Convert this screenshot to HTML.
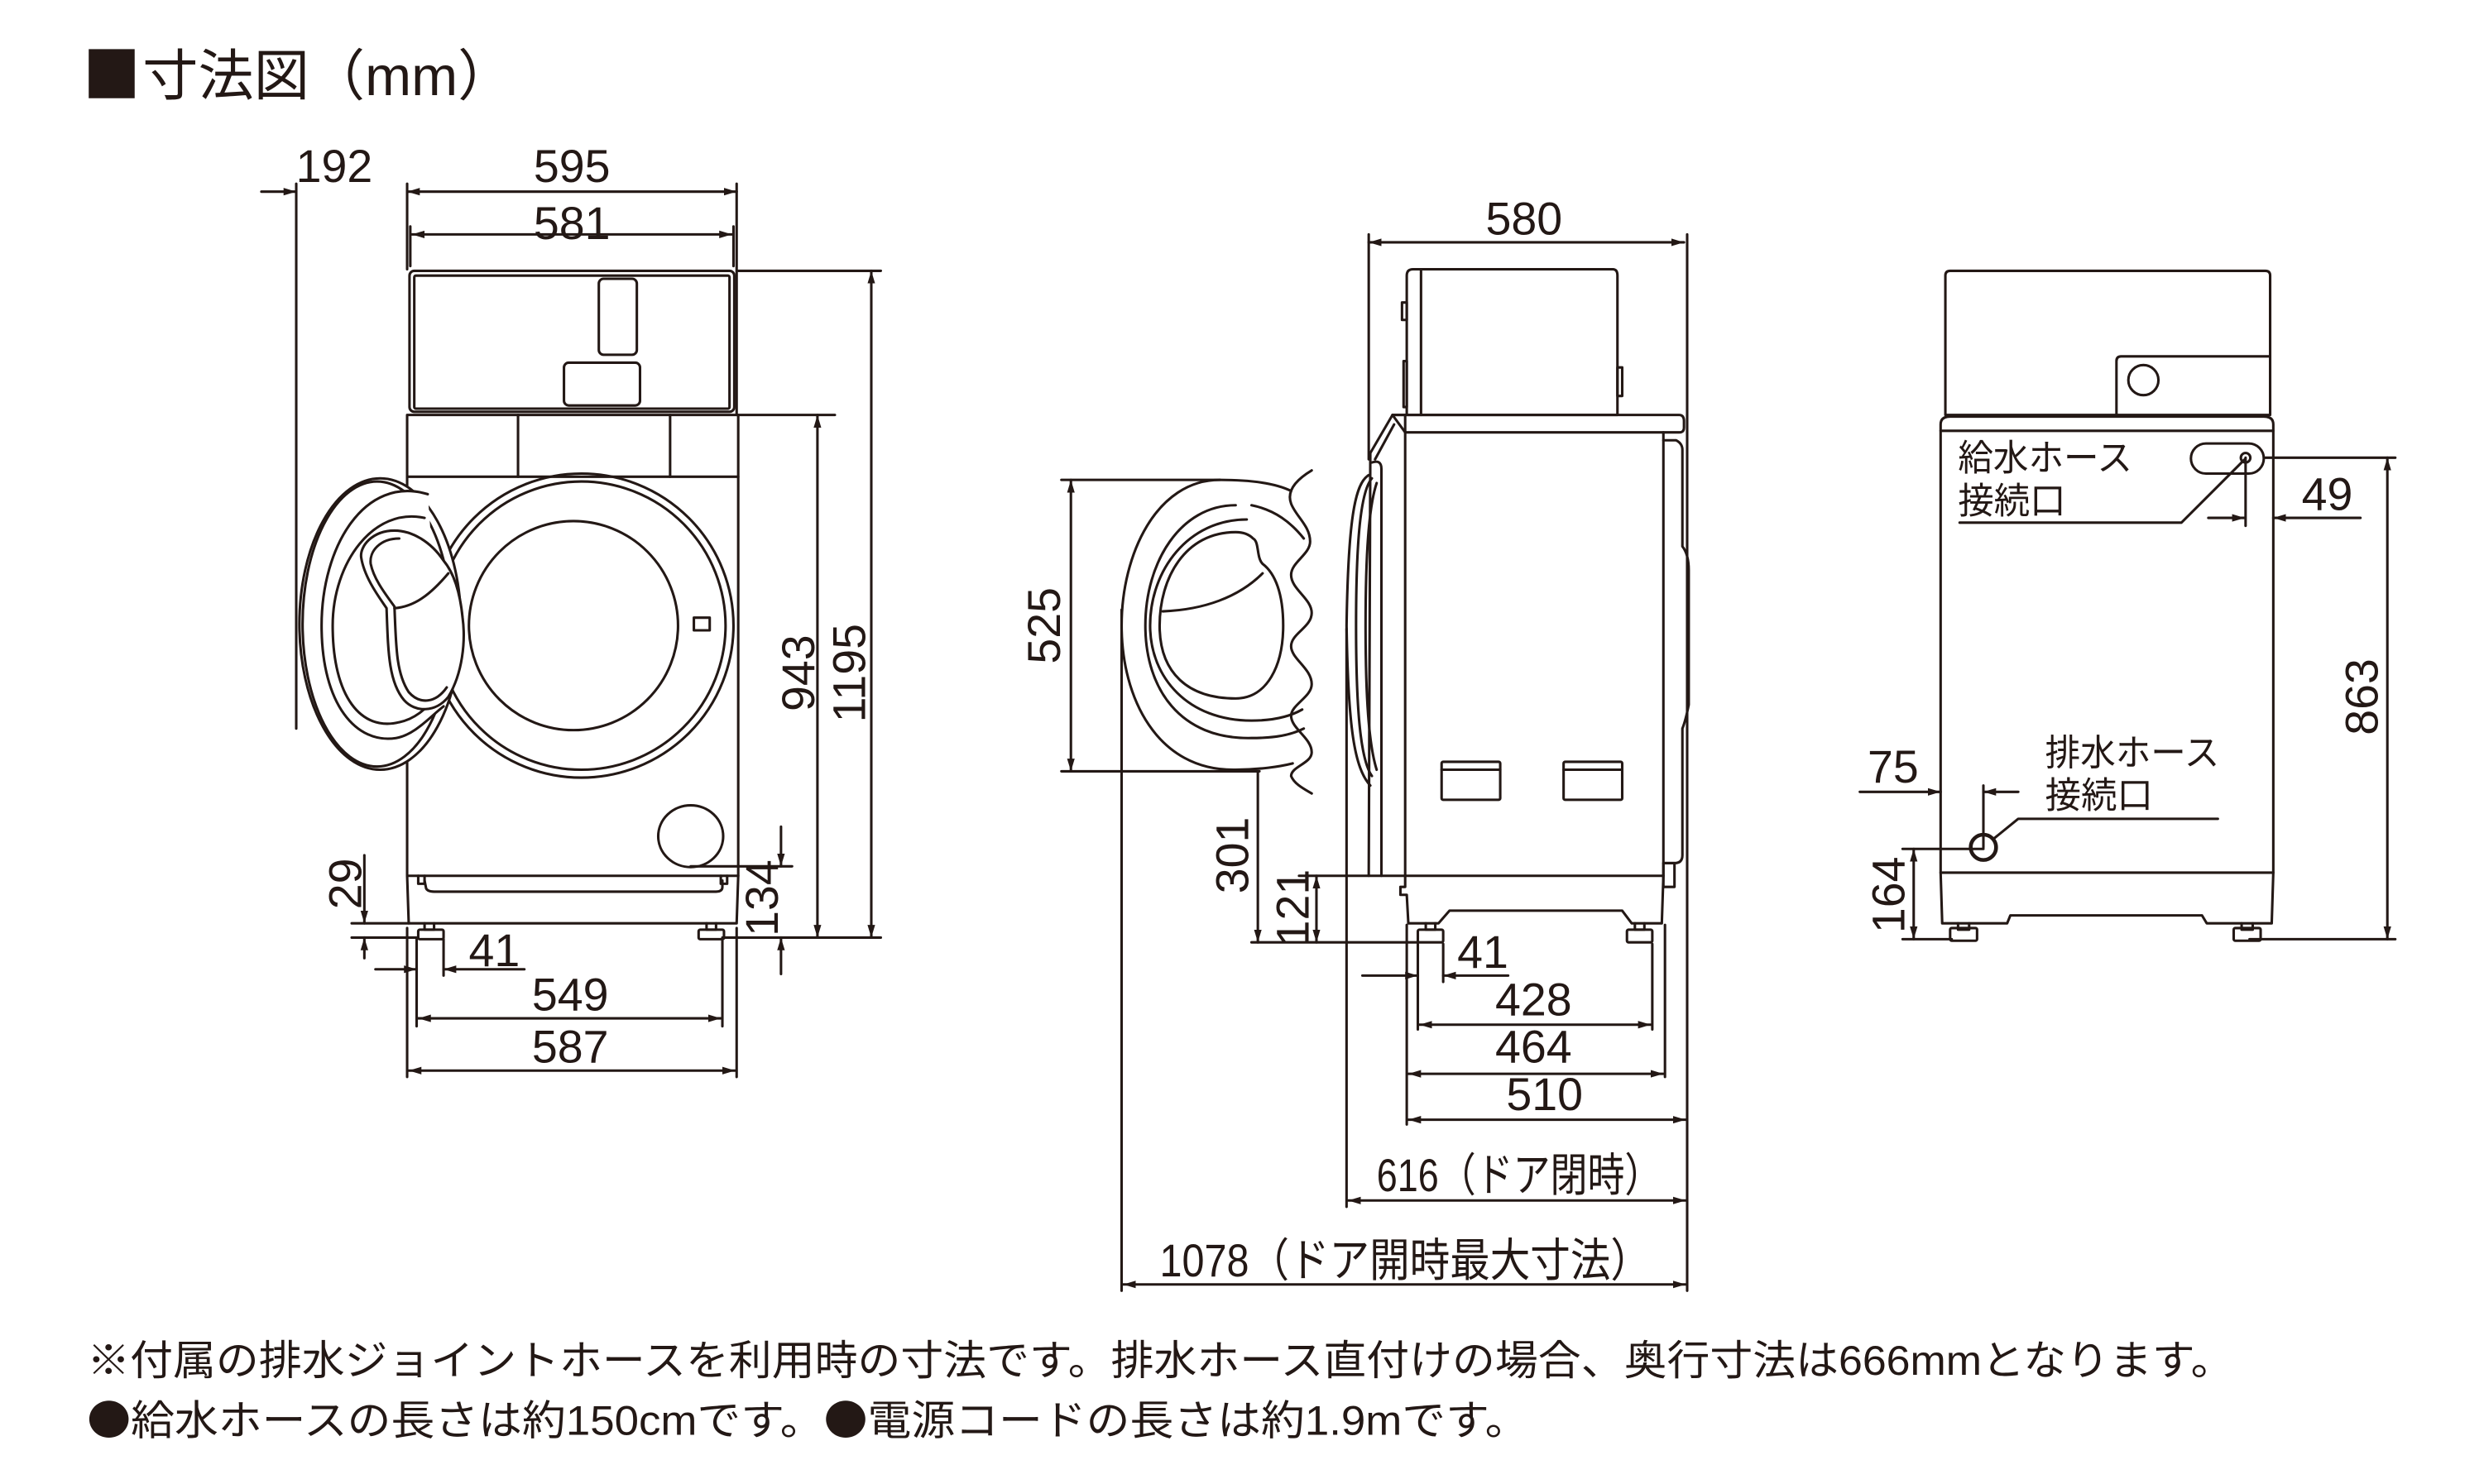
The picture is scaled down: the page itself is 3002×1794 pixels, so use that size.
<!DOCTYPE html>
<html><head><meta charset="utf-8">
<style>
html,body{margin:0;padding:0;background:#fff;}
svg{display:block;}
text{font-family:"Liberation Sans","Noto Sans CJK JP",sans-serif;fill:#231815;}
.cjk{font-family:"Noto Sans CJK JP",sans-serif;}
</style></head><body>
<svg width="3002" height="1794" viewBox="0 0 1568 937" xmlns="http://www.w3.org/2000/svg">
<defs>
<marker id="a" viewBox="0 0 10 6" refX="10" refY="3" markerWidth="8" markerHeight="5" markerUnits="userSpaceOnUse" orient="auto-start-reverse">
<path d="M0,0 L10,3 L0,6 Z" fill="#231815"/>
</marker>
</defs>
<g fill="none" stroke="#231815" stroke-width="1.6" stroke-linejoin="round" stroke-linecap="round">

<rect x="258.5" y="171" width="205" height="89" rx="3"/>
<rect x="261.5" y="174" width="199" height="84" rx="1"/>
<rect x="378" y="176" width="24" height="48" rx="3"/>
<rect x="356" y="229" width="48" height="27" rx="3"/>
<path d="M257,262 H466 V553 H257 Z"/>
<line x1="257" y1="301" x2="466" y2="301"/>
<line x1="327" y1="262" x2="327" y2="301"/>
<line x1="423" y1="262" x2="423" y2="301"/>
<circle cx="367" cy="395" r="96"/>
<circle cx="367" cy="395" r="91"/>
<circle cx="362" cy="395" r="66"/>
<rect x="438" y="390" width="10" height="8"/>
<ellipse cx="436" cy="528" rx="20.5" ry="19.5"/>
<ellipse cx="240" cy="394" rx="51" ry="92" fill="#fff"/>
<ellipse cx="238" cy="394" rx="47" ry="90"/>
<path d="M270,312 C230,300 203,345 203,395 C203,445 225,470 250,466 C262,464 272,452 280,446" fill="#fff"/>
<path d="M268,327 C236,320 210,355 210,395 C210,440 228,462 252,456 C262,454 268,448 276,440"/>
<path d="M249,335 C235,335 227,345 228,352 C230,365 240,378 244,384 C245,410 245,430 255,442 C262,450 275,450 283,440 C292,425 294,405 292,390 C290,370 285,360 280,354 C272,342 260,335 249,335 Z" fill="#fff"/>
<path d="M252,340 C240,340 233,348 234,356 C236,366 244,376 249,383 C250,408 250,425 258,437 C265,445 275,444 282,434"/>
<path d="M249,384 C262,383 272,375 283,362"/>

<path d="M257,553 L258,583 H465 L466,553"/>
<path d="M264,553 V558 H268 V553"/>
<path d="M455,553 V558 H459 V553"/>
<path d="M268,556 L269,561 Q270,563 274,563 H452 Q456,563 456,560 L456,556"/>
<path d="M268,583 V587 H274 V583"/>
<rect x="264" y="587" width="16" height="6" rx="1"/>
<path d="M446,583 V587 H452 V583"/>
<rect x="441" y="587" width="16" height="6" rx="1"/>

<line x1="165" y1="121" x2="187" y2="121" marker-end="url(#a)"/>
<line x1="257" y1="121" x2="465" y2="121" marker-start="url(#a)" marker-end="url(#a)"/>
<line x1="187" y1="116" x2="187" y2="460"/>
<line x1="257" y1="116" x2="257" y2="170"/>
<line x1="465" y1="116" x2="465" y2="262"/>
<line x1="260" y1="148" x2="462" y2="148" marker-start="url(#a)" marker-end="url(#a)"/>
<line x1="259" y1="143" x2="259" y2="168"/>
<line x1="463" y1="143" x2="463" y2="168"/>
<line x1="466" y1="171" x2="556" y2="171"/>
<line x1="466" y1="262" x2="527" y2="262"/>
<line x1="550" y1="171" x2="550" y2="592" marker-start="url(#a)" marker-end="url(#a)"/>
<line x1="516" y1="262" x2="516" y2="592" marker-start="url(#a)" marker-end="url(#a)"/>
<line x1="456" y1="592" x2="556" y2="592"/>
<line x1="436" y1="547" x2="500" y2="547"/>
<line x1="493" y1="522" x2="493" y2="547" marker-end="url(#a)"/>
<line x1="493" y1="615" x2="493" y2="592" marker-end="url(#a)"/>
<line x1="230" y1="540" x2="230" y2="583" marker-end="url(#a)"/>
<line x1="230" y1="605" x2="230" y2="592" marker-end="url(#a)"/>
<line x1="222" y1="583" x2="258" y2="583"/>
<line x1="222" y1="592" x2="263" y2="592"/>
<line x1="237" y1="612" x2="263" y2="612" marker-end="url(#a)"/>
<line x1="331" y1="612" x2="280" y2="612" marker-end="url(#a)"/>
<line x1="263" y1="593" x2="263" y2="648"/>
<line x1="280" y1="593" x2="280" y2="616"/>
<line x1="456" y1="594" x2="456" y2="648"/>
<line x1="264" y1="643" x2="455" y2="643" marker-start="url(#a)" marker-end="url(#a)"/>
<line x1="257" y1="586" x2="257" y2="680"/>
<line x1="465" y1="586" x2="465" y2="680"/>
<line x1="258" y1="676" x2="464" y2="676" marker-start="url(#a)" marker-end="url(#a)"/>

<path d="M892,170 H1018 Q1021,170 1021,174 V262 H888 V174 Q888,170 892,170 Z"/>
<line x1="897" y1="171" x2="897" y2="262"/>
<rect x="885" y="191" width="3" height="11"/>
<rect x="886" y="228" width="2" height="29"/>
<rect x="1021" y="232" width="3" height="18"/>
<path d="M879,262 H1060 Q1063,262 1063,266 V270 Q1063,273 1060,273 H887"/>
<line x1="887" y1="262" x2="887" y2="273"/>
<path d="M887,273 V553 H1050 V273"/>
<path d="M1050,278 H1058 Q1062,280 1062,284 V345 Q1066,350 1066,360 V445 Q1064,455 1062,460 V540 Q1062,545 1057,545 H1050"/>
<rect x="1050" y="545" width="7" height="15"/>
<path d="M887,262 H879 L865,286 L864,553 H887"/>
<path d="M879,262 L887,273"/>
<path d="M868,290 L880,268"/>
<path d="M866,292 Q872,290 872,296 V553"/>
<path d="M864,300 C855,305 851,330 850,395 C851,460 855,485 865,496"/>
<path d="M866,302 C859,310 856,340 856,395 C856,450 859,480 866,490"/>
<path d="M869,305 C864,320 862,350 862,395 C862,440 864,470 869,486"/>
<rect x="910" y="481" width="37" height="24" rx="1"/>
<line x1="910" y1="486" x2="947" y2="486"/>
<rect x="987" y="481" width="37" height="24" rx="1"/>
<line x1="987" y1="486" x2="1024" y2="486"/>
<path d="M887,553 V560 L884,560 V565 H888 L889,583 H908 L915,575 H1024 L1030,583 H1049 L1050,553"/>
<path d="M900,583 V587 H906 V583"/>
<rect x="895" y="587" width="16" height="8" rx="1"/>
<path d="M1032,583 V587 H1038 V583"/>
<rect x="1027" y="587" width="16" height="8" rx="1"/>

<path d="M770,303 C730,303 708,350 708,395 C708,440 730,487 780,486 C795,486 808,484 816,482"/>
<path d="M770,303 C790,303 805,305 815,310"/>
<path d="M828,297 C818,303 812,310 815,318 C818,326 827,332 827,342 C827,350 815,355 815,363 C815,372 828,378 828,387 C828,396 815,400 815,408 C815,416 828,422 828,432 C828,440 815,445 815,452 C815,460 828,466 828,475 C828,482 815,484 815,490 C817,495 823,498 828,501"/>
<path d="M780,319 C745,319 723,355 723,395 C723,435 745,467 790,466 C805,466 815,464 823,460"/>
<path d="M790,319 C805,322 815,330 823,340"/>
<path d="M787,328 C750,328 726,360 726,395 C726,428 750,455 790,455 C805,455 815,452 822,448"/>
<path d="M780,336 C748,336 732,365 732,395 C732,425 750,441 780,441 C800,441 810,420 810,395 C810,375 805,362 797,356 C793,352 795,342 791,340 C788,337 784,336 780,336 Z"/>
<path d="M734,386 C760,385 782,377 797,362"/>

<line x1="864" y1="153" x2="1063" y2="153" marker-start="url(#a)" marker-end="url(#a)"/>
<line x1="864" y1="148" x2="864" y2="290"/>
<line x1="1065" y1="148" x2="1065" y2="815"/>
<line x1="670" y1="303" x2="770" y2="303"/>
<line x1="670" y1="487" x2="795" y2="487"/>
<line x1="676" y1="303" x2="676" y2="487" marker-start="url(#a)" marker-end="url(#a)"/>
<line x1="794" y1="487" x2="794" y2="595" marker-end="url(#a)"/>
<line x1="790" y1="595" x2="895" y2="595"/>
<line x1="820" y1="553" x2="864" y2="553"/>
<line x1="831" y1="553" x2="831" y2="595" marker-start="url(#a)" marker-end="url(#a)"/>
<line x1="860" y1="616" x2="895" y2="616" marker-end="url(#a)"/>
<line x1="952" y1="616" x2="911" y2="616" marker-end="url(#a)"/>
<line x1="895" y1="596" x2="895" y2="650"/>
<line x1="911" y1="596" x2="911" y2="620"/>
<line x1="1043" y1="596" x2="1043" y2="650"/>
<line x1="896" y1="647" x2="1042" y2="647" marker-start="url(#a)" marker-end="url(#a)"/>
<line x1="888" y1="584" x2="888" y2="710"/>
<line x1="1051" y1="584" x2="1051" y2="680"/>
<line x1="889" y1="678" x2="1050" y2="678" marker-start="url(#a)" marker-end="url(#a)"/>
<line x1="889" y1="707" x2="1064" y2="707" marker-start="url(#a)" marker-end="url(#a)"/>
<line x1="850" y1="397" x2="850" y2="762"/>
<line x1="851" y1="758" x2="1064" y2="758" marker-start="url(#a)" marker-end="url(#a)"/>
<line x1="708" y1="385" x2="708" y2="815"/>
<line x1="709" y1="811" x2="1064" y2="811" marker-start="url(#a)" marker-end="url(#a)"/>

<path d="M1231,171 H1430 Q1433,171 1433,174 V262 H1228 V174 Q1228,171 1231,171 Z"/>
<path d="M1336,262 V228 Q1336,225 1339,225 H1432"/>
<circle cx="1353" cy="240" r="9.5"/>
<path d="M1225,551 V268 Q1225,263 1231,263 H1429 Q1435,263 1435,268 V551 Z"/>
<line x1="1225" y1="272" x2="1435" y2="272"/>
<rect x="1383" y="280" width="46" height="19" rx="9.5"/>
<circle cx="1417.5" cy="289" r="3"/>
<path d="M1417,290 L1377,330 H1237"/>
<line x1="1417.5" y1="289" x2="1417.5" y2="332"/>
<line x1="1394" y1="327" x2="1417" y2="327" marker-end="url(#a)"/>
<line x1="1490" y1="327" x2="1435" y2="327" marker-end="url(#a)"/>
<line x1="1430" y1="289" x2="1512" y2="289"/>
<line x1="1507" y1="289" x2="1507" y2="593" marker-start="url(#a)" marker-end="url(#a)"/>
<line x1="1420" y1="593" x2="1512" y2="593"/>
<circle cx="1252" cy="535" r="8" stroke-width="2.4"/>
<path d="M1258,530 L1274,517 H1400"/>
<line x1="1252" y1="496" x2="1252" y2="535"/>
<line x1="1174" y1="500" x2="1225" y2="500" marker-end="url(#a)"/>
<line x1="1274" y1="500" x2="1252" y2="500" marker-end="url(#a)"/>
<line x1="1201" y1="536" x2="1252" y2="536"/>
<line x1="1208" y1="536" x2="1208" y2="593" marker-start="url(#a)" marker-end="url(#a)"/>
<line x1="1201" y1="593" x2="1232" y2="593"/>
<path d="M1225,551 L1226,583 H1267 L1269,578 H1390 L1393,583 H1434 L1435,551"/>
<path d="M1236,583 V587 H1243 V583"/>
<rect x="1231" y="586" width="17" height="8" rx="1"/>
<path d="M1415,583 V587 H1422 V583"/>
<rect x="1410" y="586" width="17" height="8" rx="1"/>
</g>

<rect x="56" y="31" width="29" height="31" fill="#231815"/>
<text x="90" y="60" font-size="35" textLength="234" lengthAdjust="spacingAndGlyphs">寸法図（mm）</text>

<g font-size="29">
<text x="211" y="115" text-anchor="middle">192</text>
<text x="361" y="115" text-anchor="middle">595</text>
<text x="361" y="151" text-anchor="middle">581</text>
<text transform="translate(514,425) rotate(-90)" text-anchor="middle">943</text>
<text transform="translate(546,425) rotate(-90)" text-anchor="middle">1195</text>
<text transform="translate(491,567) rotate(-90)" text-anchor="middle">134</text>
<text transform="translate(228,558) rotate(-90)" text-anchor="middle">29</text>
<text x="312" y="610" text-anchor="middle">41</text>
<text x="360" y="638" text-anchor="middle">549</text>
<text x="360" y="671" text-anchor="middle">587</text>

<text x="962" y="148" text-anchor="middle">580</text>
<text transform="translate(669,395) rotate(-90)" text-anchor="middle">525</text>
<text transform="translate(788,540) rotate(-90)" text-anchor="middle">301</text>
<text transform="translate(826,573) rotate(-90)" text-anchor="middle">121</text>
<text x="936" y="611" text-anchor="middle">41</text>
<text x="968" y="641" text-anchor="middle">428</text>
<text x="968" y="671" text-anchor="middle">464</text>
<text x="975" y="701" text-anchor="middle">510</text>
<text x="869" y="752" textLength="180" lengthAdjust="spacingAndGlyphs">616（ドア閉時）</text>
<text x="732" y="806" textLength="310" lengthAdjust="spacingAndGlyphs">1078（ドア開時最大寸法）</text>

<text x="1469" y="322" text-anchor="middle">49</text>
<text transform="translate(1501,440) rotate(-90)" text-anchor="middle">863</text>
<text x="1195" y="494" text-anchor="middle">75</text>
<text transform="translate(1202,565) rotate(-90)" text-anchor="middle">164</text>
</g>
<g font-size="23">
<text x="1236" y="297" textLength="110" lengthAdjust="spacingAndGlyphs">給水ホース</text>
<text x="1236" y="324" textLength="68" lengthAdjust="spacingAndGlyphs">接続口</text>
<text x="1291" y="483" textLength="110" lengthAdjust="spacingAndGlyphs">排水ホース</text>
<text x="1291" y="510" textLength="68" lengthAdjust="spacingAndGlyphs">接続口</text>
</g>

<g font-size="26">
<text x="55" y="868" textLength="1355" lengthAdjust="spacingAndGlyphs">※付属の排水ジョイントホースを利用時の寸法です。排水ホース直付けの場合、奥行寸法は666mmとなります。</text>
<text x="55" y="906" textLength="910" lengthAdjust="spacingAndGlyphs"><tspan class="cjk">●</tspan>給水ホースの長さは約150cmです。<tspan class="cjk">●</tspan>電源コードの長さは約1.9mです。</text>
</g>
</svg>
</body></html>
